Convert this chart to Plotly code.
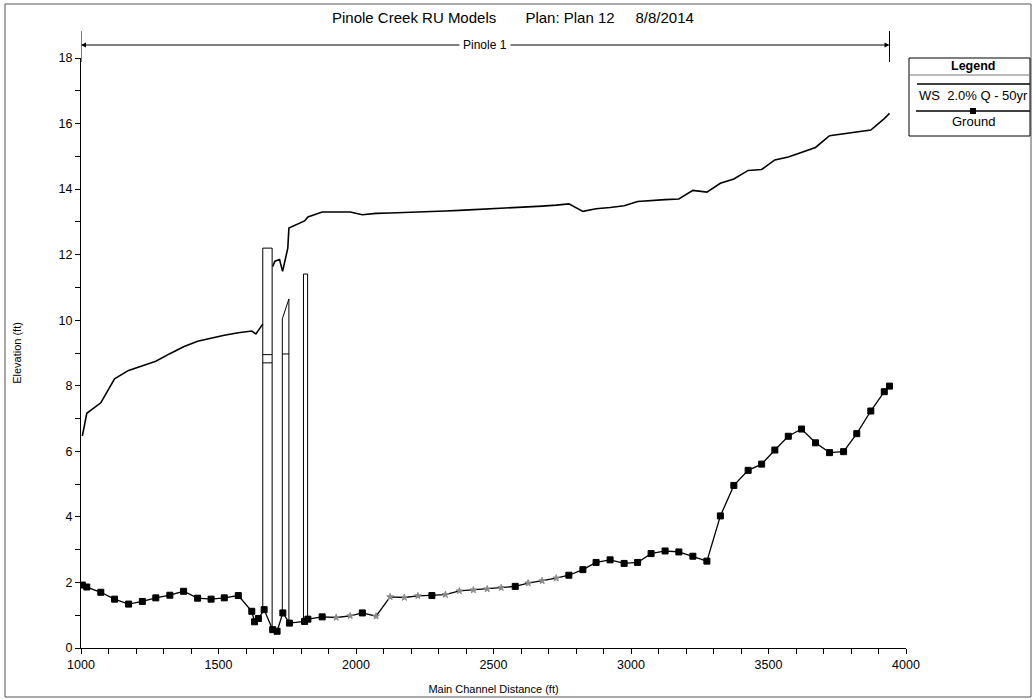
import numpy as np
import plotly.graph_objects as go

# ---------------- data ----------------
ground_x = [1005, 1021, 1072, 1122, 1173, 1223, 1272, 1323, 1373, 1424, 1473, 1521, 1572,
            1621, 1631, 1645, 1666, 1697, 1713, 1734, 1758, 1813, 1825,
            1877, 1928, 1979, 2023, 2073, 2124, 2176, 2225, 2276, 2325, 2376, 2427, 2477,
            2528, 2579, 2626, 2677, 2728, 2774, 2825, 2873,
            2924, 2975, 3024, 3073, 3124, 3174, 3225, 3276, 3325, 3374, 3426, 3475, 3523,
            3572, 3620, 3671, 3722, 3773, 3821, 3872, 3921, 3940]
ground_y = [1.92, 1.86, 1.70, 1.49, 1.34, 1.42, 1.53, 1.61, 1.73, 1.52, 1.49, 1.53, 1.60,
            1.12, 0.80, 0.90, 1.17, 0.56, 0.51, 1.07, 0.76, 0.81, 0.88,
            0.95, 0.93, 0.98, 1.07, 0.97, 1.56, 1.54, 1.59, 1.60, 1.63, 1.74, 1.77, 1.80,
            1.84, 1.88, 1.98, 2.05, 2.13, 2.22, 2.39, 2.61,
            2.69, 2.58, 2.61, 2.88, 2.96, 2.93, 2.80, 2.65, 4.03, 4.96, 5.42, 5.61, 6.04,
            6.46, 6.68, 6.26, 5.96, 5.99, 6.54, 7.23, 7.82, 7.99]
# 1 = interpolated cross section (drawn with a grey star)
ground_interp = [0] * 24 + [1, 1, 0, 1, 1, 1, 1, 0, 1, 1, 1, 1, 1, 0, 1, 1, 1] + [0] * 25

ws_x = [1005, 1021, 1072, 1122, 1173, 1223, 1272, 1323, 1373, 1424, 1473, 1521, 1572,
        1621, 1636, 1661, None,
        1697, 1705, 1722, 1733, 1752, 1756, 1813, 1825,
        1877, 1928, 1979, 2023, 2073, 2124, 2176, 2225, 2276, 2325, 2376, 2427, 2477,
        2528, 2579, 2626, 2677, 2728, 2774, 2825, 2873, 2924, 2975, 3024, 3073, 3124,
        3174, 3225, 3276, 3325, 3374, 3426, 3475, 3523, 3572, 3620, 3671, 3722, 3773,
        3821, 3872, 3921, 3940]
ws_y = [6.47, 7.16, 7.48, 8.21, 8.47, 8.60, 8.75, 8.98, 9.19, 9.36, 9.46, 9.54, 9.62,
        9.67, 9.58, 9.88, None,
        11.64, 11.80, 11.85, 11.49, 12.20, 12.81, 13.03, 13.15,
        13.30, 13.30, 13.30, 13.22, 13.26, 13.27, 13.28, 13.29, 13.31, 13.33, 13.35, 13.37, 13.38,
        13.40, 13.42, 13.45, 13.48, 13.51, 13.55, 13.32, 13.40, 13.44, 13.49, 13.62, 13.66, 13.68,
        13.70, 13.96, 13.91, 14.18, 14.31, 14.57, 14.60, 14.89, 14.98, 15.12, 15.27, 15.63, 15.68,
        15.74, 15.80, 16.15, 16.31]

# structures (bridges / culverts)
struct_left = [1661, 1732, 1809]
struct_right = [1695, 1756, 1824]
struct_top_left = [12.20, 10.04, 11.41]
struct_top_right = [12.20, 10.65, 11.41]
struct_chords = [[8.95, 8.70], [8.97], []]

reach_name = "Pinole 1"
reach_start = 1000
reach_end = 3940

title_text = "Pinole Creek RU Models&nbsp;&nbsp;&nbsp;&nbsp;&nbsp;&nbsp;&nbsp;Plan: Plan 12&nbsp;&nbsp;&nbsp;&nbsp;&nbsp;8/8/2014"
ws_name = "WS&nbsp;&nbsp;2.0% Q - 50yr"
ground_name = "Ground"

# ---------------- figure ----------------
FONT = "Liberation Sans, Arial, sans-serif"
NARROW = "Liberation Sans Narrow, Arial Narrow, Liberation Sans, sans-serif"

fig = go.Figure()

# structures
for L, R, tl, tr, chords in zip(struct_left, struct_right, struct_top_left,
                                struct_top_right, struct_chords):
    gl = float(np.interp(L, ground_x, ground_y))
    gr = float(np.interp(R, ground_x, ground_y))
    fig.add_trace(go.Scatter(x=[L, L, R, R], y=[gl, tl, tr, gr], mode="lines",
                             line=dict(color="black", width=1), hoverinfo="skip"))
    for c in chords:
        fig.add_trace(go.Scatter(x=[L, R], y=[c, c], mode="lines",
                                 line=dict(color="black", width=1), hoverinfo="skip"))

# water surface
fig.add_trace(go.Scatter(x=ws_x, y=ws_y, mode="lines", connectgaps=False,
                         line=dict(color="black", width=1.6), name="WS"))

# ground
symbols = ["star" if f else "square" for f in ground_interp]
colors = ["#8a8a8a" if f else "black" for f in ground_interp]
sizes = [5 if f else 6 for f in ground_interp]
fig.add_trace(go.Scatter(x=ground_x, y=ground_y, mode="lines+markers",
                         line=dict(color="black", width=1.3),
                         marker=dict(symbol=symbols, color=colors, size=sizes, opacity=1,
                                     line=dict(width=1, color=colors)),
                         name="Ground"))

# plot area geometry (pixels) for paper conversions
W, H = 1036, 700
ML, MR, MT, MB = 81, 130, 58, 52
PW, PH = W - ML - MR, H - MT - MB


def px(xp):
    return (xp - ML) / PW


def py(yp):
    return (H - MB - yp) / PH


shapes = []
annotations = []


def label(x, y, text, size, family=FONT, xref="paper", **kw):
    annotations.append(dict(x=x, y=y, xref=xref, yref="paper", text=text,
                            showarrow=False, xanchor="center", yanchor="middle",
                            font=dict(family=family, size=size, color="black"), **kw))


# outer frame
shapes.append(dict(type="rect", xref="paper", yref="paper", x0=px(5), x1=px(1031),
                   y0=py(697), y1=py(4), line=dict(color="#555", width=1)))

# reach marker
for xv in (reach_start, reach_end):
    shapes.append(dict(type="line", xref="x", yref="paper", x0=xv, x1=xv,
                       y0=py(62), y1=py(31), line=dict(color="black", width=1)))
mid = (reach_start + reach_end) / 2
for head in (reach_start, reach_end):
    annotations.append(dict(x=head, y=py(45), xref="x", yref="paper", text="",
                            showarrow=True, ax=mid, ay=0, axref="x", ayref="pixel",
                            arrowhead=2, arrowsize=1, arrowwidth=1, arrowcolor="black"))
label(mid, py(45), reach_name, 12, family=NARROW, xref="x", bgcolor="white", borderpad=3)

# title
label(px(513), py(17), title_text, 15)

# legend box (drawn manually)
lx0, lx1, ly0, ly1 = 909, 1030, 58, 136
shapes.append(dict(type="rect", xref="paper", yref="paper", x0=px(lx0), x1=px(lx1),
                   y0=py(ly1), y1=py(ly0), line=dict(color="black", width=1)))
shapes.append(dict(type="line", xref="paper", yref="paper", x0=px(lx0), x1=px(lx1),
                   y0=py(75), y1=py(75), line=dict(color="#777", width=1)))
shapes.append(dict(type="line", xref="paper", yref="paper", x0=px(917), x1=px(1030),
                   y0=py(84), y1=py(84), line=dict(color="black", width=1.6)))
shapes.append(dict(type="line", xref="paper", yref="paper", x0=px(916), x1=px(1030),
                   y0=py(111), y1=py(111), line=dict(color="black", width=1.3)))
shapes.append(dict(type="rect", xref="paper", yref="paper", x0=px(970), x1=px(976),
                   y0=py(114), y1=py(108), line=dict(width=0), fillcolor="black"))
label(px(973), py(66), "<b>Legend</b>", 12.5)
label(px(973), py(95.5), ws_name, 13, family=NARROW)
label(px(973), py(122), ground_name, 13, family=NARROW)

fig.update_layout(
    width=W, height=H,
    margin=dict(l=ML, r=MR, t=MT, b=MB, autoexpand=False),
    paper_bgcolor="white", plot_bgcolor="white",
    showlegend=False,
    font=dict(family=NARROW, size=12, color="black"),
    shapes=shapes, annotations=annotations,
    xaxis=dict(range=[1000, 4000], tick0=1000, dtick=500, ticks="outside", ticklen=5,
               tickcolor="black", showline=True, linecolor="black", linewidth=1,
               showgrid=False, zeroline=False, automargin=False,
               minor=dict(dtick=100, ticks="outside", ticklen=5, tickcolor="black"),
               tickfont=dict(family=NARROW, size=12.5),
               title=dict(text="Main Channel Distance (ft)", standoff=14,
                          font=dict(family=FONT, size=11))),
    yaxis=dict(range=[0, 18], tick0=0, dtick=2, ticks="outside", ticklen=5,
               tickcolor="black", showline=True, linecolor="black", linewidth=1,
               showgrid=False, zeroline=False, automargin=False,
               minor=dict(dtick=1, ticks="outside", ticklen=5, tickcolor="black"),
               tickfont=dict(family=NARROW, size=12.5),
               title=dict(text="Elevation (ft)", standoff=34,
                          font=dict(family=FONT, size=11))),
)

fig.write_html("out.html", config={"displayModeBar": False},
               post_script="document.body.style.margin='0px';document.body.style.overflow='hidden';")
